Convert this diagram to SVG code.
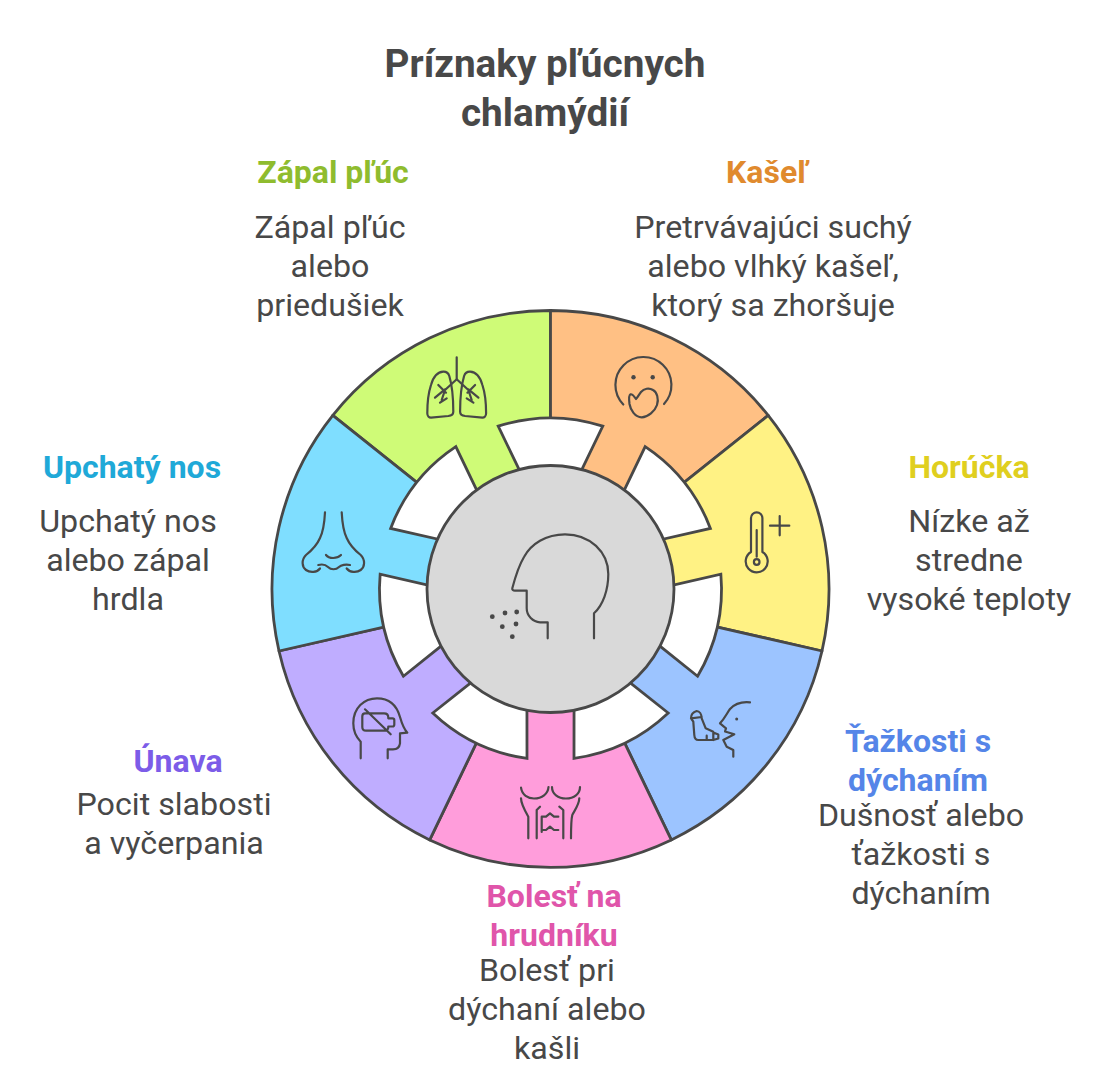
<svg xmlns="http://www.w3.org/2000/svg" width="1100" height="1069" viewBox="0 0 1100 1069">
<style>
text{font-family:Roboto,"Liberation Sans",sans-serif;text-anchor:middle;fill:#484848}
.title{font-size:38.7px;font-weight:700}
.head{font-size:32px;font-weight:700}
.body{font-size:32.2px}
.seg{stroke:#484848;stroke-width:2.8;stroke-linejoin:round}
.ic{fill:none;stroke:#484848;stroke-width:2.2;stroke-linecap:round;stroke-linejoin:round}
.dot{fill:#484848;stroke:none}
</style>
<defs>
<path id="gap" d="M-52.3 -162.8A171 171 0 0 1 52.3 -162.8L30 -116.6H-30Z" fill="#fff" stroke="#484848" stroke-width="2.8" stroke-linejoin="miter"/>
</defs>
<rect width="1100" height="1069" fill="#fff"/>
<text class="title" x="545" y="77">Príznaky pľúcnych</text>
<text class="title" x="545" y="126">chlamýdií</text>

<g id="node-zapal-pluc">
<path class="seg" fill="#CFFB77" d="M550.5 589L332.8 415.4A278.5 278.5 0 0 1 550.5 310.5Z"/>
<path class="ic" d="M456.7 357.3V379.3L445 390L441.7 400M438.3 385L446 392.7M435 397.7L445 389.3M440 402.7L446.7 398.3"/>
<path class="ic" d="M443.3 371.7C436 372 433 378 431 385C428 394 427.3 403 427.3 413.3C427.3 416 429 417.7 431 417.7L448.3 416C451.5 415.6 453.3 414 453.3 411.7C453.3 400 452 385 449.3 376C448.3 373 446 371.6 443.3 371.7Z"/>
<g transform="translate(913.4 0) scale(-1 1)"><path class="ic" d="M456.7 379.3L445 390L441.7 400M438.3 385L446 392.7M435 397.7L445 389.3M440 402.7L446.7 398.3"/>
<path class="ic" d="M443.3 371.7C436 372 433 378 431 385C428 394 427.3 403 427.3 413.3C427.3 416 429 417.7 431 417.7L448.3 416C451.5 415.6 453.3 414 453.3 411.7C453.3 400 452 385 449.3 376C448.3 373 446 371.6 443.3 371.7Z"/></g>
<text class="head" x="333" y="183" style="fill:#8FBC2E">Zápal pľúc</text>
<text class="body" x="330" y="238">Zápal pľúc</text>
<text class="body" x="330" y="277">alebo</text>
<text class="body" x="330" y="316">priedušiek</text>
</g>

<g id="node-kasel">
<path class="seg" fill="#FFC084" d="M550.5 589V310.5A278.5 278.5 0 0 1 768.2 415.4Z"/>
<path class="ic" d="M623.3 404.5A28 28 0 1 1 664 404"/>
<circle class="dot" cx="633.5" cy="377.3" r="2.2"/><circle class="dot" cx="652.7" cy="377.3" r="2.2"/>
<path class="ic" d="M636 399C634 396 632 394 630.5 394.3C629 395 629 400 629.5 404C630.5 410 635 417.3 641.7 417.3C648 417.3 655 411 657 405C659 399 657 392 653 390C649 387.5 644 388.5 641 392C639 394.5 638 397 636 399Z"/>
<text class="head" x="767" y="183" style="fill:#E08A2E">Kašeľ</text>
<text class="body" x="773" y="238">Pretrvávajúci suchý</text>
<text class="body" x="773" y="277">alebo vlhký kašeľ,</text>
<text class="body" x="773" y="316">ktorý sa zhoršuje</text>
</g>

<g id="node-horucka">
<path class="seg" fill="#FFF284" d="M550.5 589L768.2 415.4A278.5 278.5 0 0 1 822 651Z"/>
<path class="ic" d="M751 552V518A5.7 5.7 0 0 1 762.4 518V552A11 11 0 1 1 751 552Z"/>
<path class="ic" d="M756.7 530V556.7"/><circle class="ic" cx="756.7" cy="562" r="2.8"/>
<path class="ic" d="M770 525.7H789.3M779.7 516V535.3"/>
<text class="head" x="969" y="478" style="fill:#E0CF1F">Horúčka</text>
<text class="body" x="969" y="532">Nízke až</text>
<text class="body" x="969" y="571">stredne</text>
<text class="body" x="969" y="610">vysoké teploty</text>
</g>

<g id="node-tazkosti">
<path class="seg" fill="#9CC4FF" d="M550.5 589L822 651A278.5 278.5 0 0 1 671.3 839.9Z"/>
<path class="ic" d="M696.7 711C693 712 691 715 691 718.3L693.3 721.7L694.3 735C694.5 738 696 740 698.3 740H713.3V731.7L705.7 728.3L701.7 718.3C701.5 714 699.5 711 696.7 711ZM691 718.3L701.7 717M713.3 732.5L718.3 734.5V738.5L713.3 740M706.7 735.7V740"/>
<path class="ic" d="M750 702.3C742 701.5 735 703.5 730 709C727 713 725 718 720 723.3L726 728.3L725 731.5L734.3 734.3L723.3 740L726.7 746.7L733.3 750V756.7"/>
<circle class="dot" cx="736.7" cy="719" r="1.5"/>
<text class="head" x="918" y="752" style="fill:#5585E8">Ťažkosti s</text>
<text class="head" x="918" y="791" style="fill:#5585E8">dýchaním</text>
<text class="body" x="921" y="826">Dušnosť alebo</text>
<text class="body" x="921" y="865">ťažkosti s</text>
<text class="body" x="921" y="904">dýchaním</text>
</g>

<g id="node-bolest">
<path class="seg" fill="#FF9DDB" d="M550.5 589L671.3 839.9A278.5 278.5 0 0 1 429.7 839.9Z"/>
<path class="ic" d="M521 787.7C522 795 528 798.5 534 798.5C542 798.5 548 794 548.5 787M552 787C552 794 558 798.5 566 798.5C574 798.5 580 794 580 787"/>
<path class="ic" d="M521 798.3C521 804 525 811 528.3 816.7V838.3M579.3 798.3C579.3 804 575 810 572.3 815C571 820 571 828 571 838.3M536.7 838.3V810L540 806.7M563.3 838.3V810L559.3 806.7"/>
<path class="ic" d="M541.7 832V816.7H546L550 813.3L554 816.7H558.3M541.7 830H546L550 826.7L554 830H558.3"/>
<text class="head" x="554" y="907" style="fill:#E055AA">Bolesť na</text>
<text class="head" x="554" y="946" style="fill:#E055AA">hrudníku</text>
<text class="body" x="547" y="981">Bolesť pri</text>
<text class="body" x="547" y="1020">dýchaní alebo</text>
<text class="body" x="547" y="1059">kašli</text>
</g>

<g id="node-unava">
<path class="seg" fill="#BFADFF" d="M550.5 589L429.7 839.9A278.5 278.5 0 0 1 279 651Z"/>
<path class="ic" d="M360.7 758.3V741.7C355 736 353.3 730 353.3 723.3C353.3 708 364 698.3 377 698.3C390 698.3 397 706 400 717C402 724 404 729 407.3 732.7L400 733.3V743.3C399.5 747 397 749.3 393 749.3H387.7V758.3"/>
<path class="ic" d="M365 713.3H384C386.5 713.3 388.3 715 388.3 717.5V718.3H392.5C393.6 718.3 394.3 719 394.3 720V724.5C394.3 725.8 393.6 726.5 392.5 726.5H388.3V727C388.3 729.5 386.5 730.7 384 730.7H366C363.5 730.7 362.3 729 362.3 727V716.5C362.3 714.5 363.5 713.3 365 713.3ZM365 709.3L390.7 734.3"/>
<text class="head" x="178" y="772" style="fill:#7C5CE8">Únava</text>
<text class="body" x="174" y="815">Pocit slabosti</text>
<text class="body" x="174" y="854">a vyčerpania</text>
</g>

<g id="node-upchaty-nos">
<path class="seg" fill="#7FDEFF" d="M550.5 589L279 651A278.5 278.5 0 0 1 332.8 415.4Z"/>
<path class="ic" d="M325 512.3C324.5 522 324 530 320 538C317 545 311 551 306 555C301 560 302 567 306 570C310 573 317 572.5 320 568.5M318.3 565C322 564 326 565 328 567C331 570 336 570 339 567C341 565 346 564 350 565M341.7 512.3C342.2 522 342.7 530 346.7 538C349.7 545 355.7 551 360.7 555C365.7 560 364.7 567 360.7 570C356.7 573 349.7 572.5 346.7 568.5M326 555C329 559 337 559 341 555"/>
<text class="head" x="132" y="478" style="fill:#1FA9D8">Upchatý nos</text>
<text class="body" x="128" y="532">Upchatý nos</text>
<text class="body" x="128" y="571">alebo zápal</text>
<text class="body" x="128" y="610">hrdla</text>
</g>

<g id="connectors">
<use href="#gap" transform="translate(550.5 589)"/>
<use href="#gap" transform="translate(550.5 589) rotate(51.43)"/>
<use href="#gap" transform="translate(550.5 589) rotate(102.86)"/>
<use href="#gap" transform="translate(550.5 589) rotate(154.29)"/>
<use href="#gap" transform="translate(550.5 589) rotate(205.71)"/>
<use href="#gap" transform="translate(550.5 589) rotate(257.14)"/>
<use href="#gap" transform="translate(550.5 589) rotate(308.57)"/>
</g>

<g id="node-center">
<circle class="seg" cx="550.5" cy="589" r="123.5" fill="#D9D9D9"/>
<path class="ic" d="M547.7 638.3V622.3H540C533 622 526.7 616 526.7 608.3V590.7H515C513 590.7 512 589.5 512.3 588.3C515 578 518 567 524 557C531 544 546 534.3 565 534.3C590 534.3 608.3 552 608.3 574C608.3 590 603 605 594 613.3V638.3"/>
<circle class="dot" cx="492.3" cy="616.7" r="2.4"/><circle class="dot" cx="505" cy="613" r="2.4"/><circle class="dot" cx="516.7" cy="612" r="2.4"/><circle class="dot" cx="502.3" cy="626.7" r="2.4"/><circle class="dot" cx="516" cy="624" r="2.4"/><circle class="dot" cx="512.3" cy="636.7" r="2.4"/>
</g>
</svg>
